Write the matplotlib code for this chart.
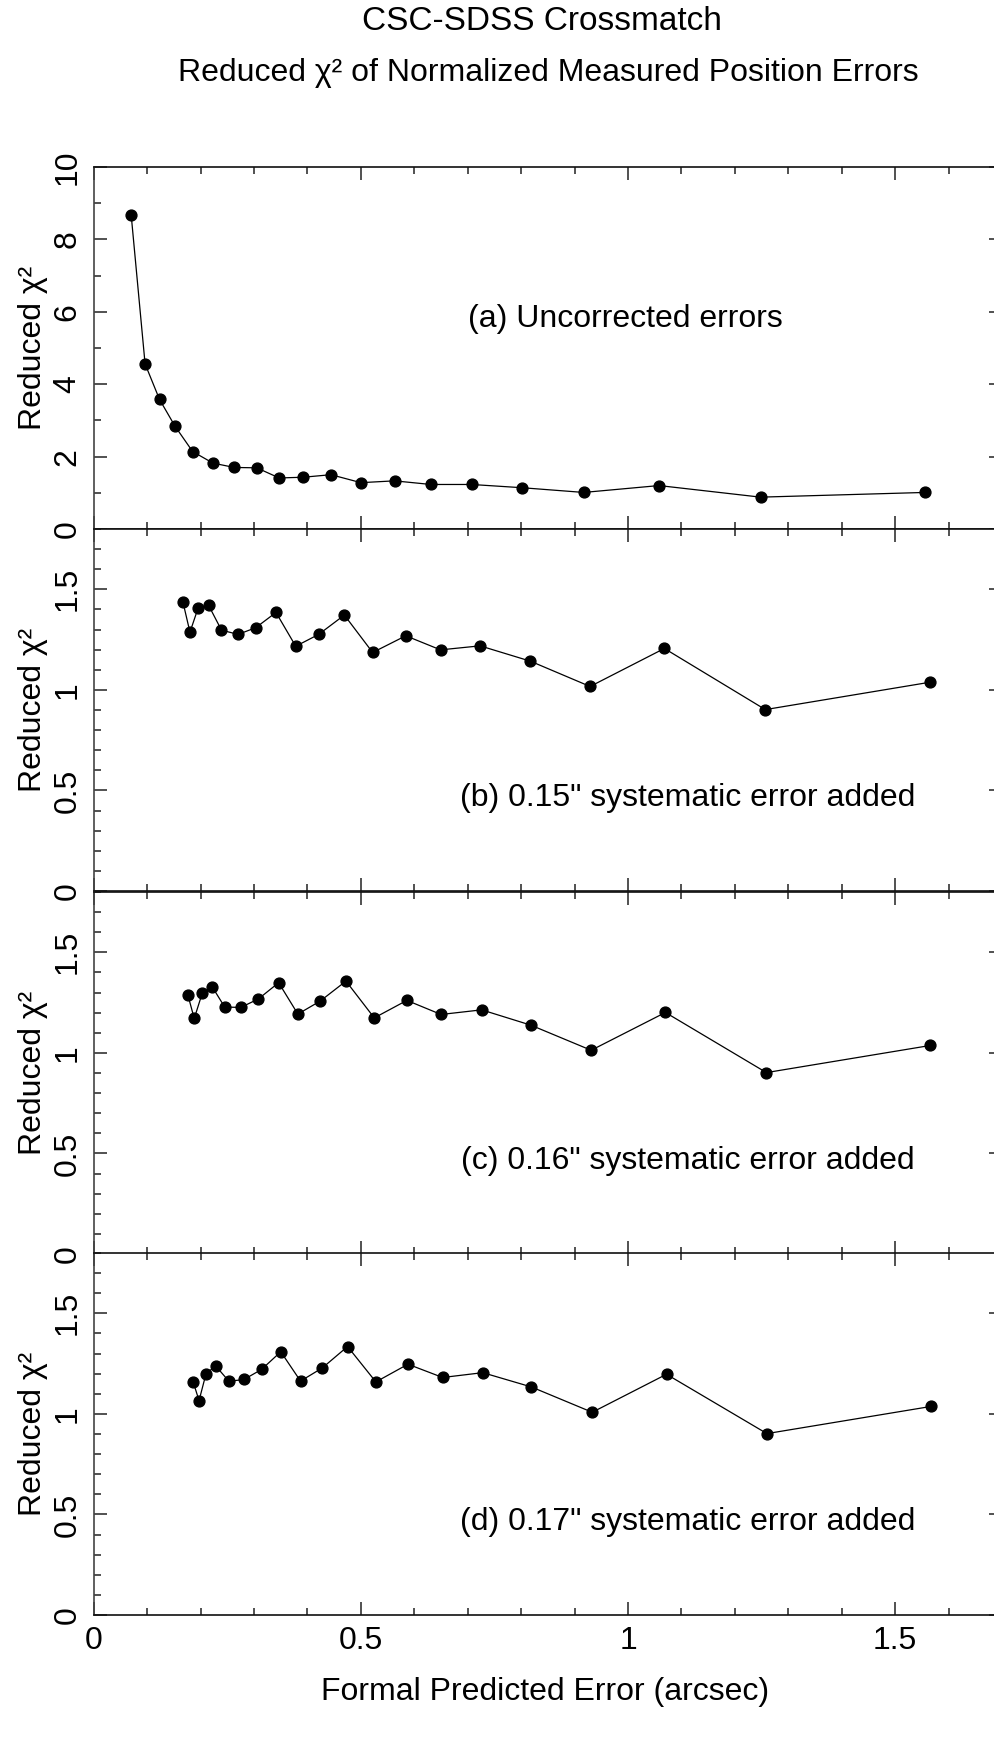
import matplotlib
matplotlib.use("Agg")
import matplotlib.pyplot as plt
from matplotlib.ticker import MultipleLocator

plt.rcParams['font.family'] = ['Liberation Sans', 'DejaVu Sans']

# ---- data ----
xa = [0.070, 0.096, 0.123, 0.152, 0.185, 0.223, 0.263, 0.305, 0.347, 0.392,
      0.444, 0.500, 0.563, 0.631, 0.707, 0.802, 0.917, 1.058, 1.248, 1.556]
ya = [8.67, 4.56, 3.58, 2.84, 2.14, 1.82, 1.70, 1.69, 1.41, 1.43,
      1.50, 1.28, 1.33, 1.23, 1.23, 1.14, 1.01, 1.20, 0.88, 1.01]

xb = [0.167, 0.180, 0.195, 0.215, 0.239, 0.270, 0.303, 0.341, 0.378, 0.421,
      0.469, 0.522, 0.584, 0.649, 0.723, 0.817, 0.929, 1.068, 1.257, 1.565]
yb = [1.435, 1.287, 1.405, 1.420, 1.297, 1.276, 1.309, 1.385, 1.217, 1.276,
      1.372, 1.186, 1.269, 1.199, 1.219, 1.143, 1.017, 1.206, 0.902, 1.038]

xc = [0.176, 0.188, 0.203, 0.222, 0.245, 0.275, 0.308, 0.346, 0.382, 0.424,
      0.472, 0.525, 0.586, 0.650, 0.726, 0.818, 0.931, 1.070, 1.259, 1.566]
yc = [1.289, 1.171, 1.297, 1.327, 1.228, 1.226, 1.268, 1.349, 1.193, 1.258,
      1.357, 1.174, 1.261, 1.191, 1.214, 1.138, 1.013, 1.201, 0.902, 1.037]

xd = [0.186, 0.197, 0.210, 0.228, 0.253, 0.281, 0.314, 0.350, 0.387, 0.428,
      0.475, 0.528, 0.588, 0.653, 0.728, 0.819, 0.933, 1.072, 1.260, 1.567]
yd = [1.159, 1.066, 1.199, 1.239, 1.162, 1.171, 1.221, 1.309, 1.163, 1.229,
      1.335, 1.159, 1.247, 1.181, 1.205, 1.134, 1.008, 1.197, 0.902, 1.037]

labels = ['(a) Uncorrected errors',
          '(b) 0.15" systematic error added',
          '(c) 0.16" systematic error added',
          '(d) 0.17" systematic error added']
xticks = [0, 0.5, 1, 1.5]
xtick_labels = ['0', '0.5', '1', '1.5']

W, H = 994, 1739
fig = plt.figure(figsize=(W / 100, H / 100), dpi=100)

left = 93.8 / W
width = (1002 - 93.8) / W
panel_tops = [167, 529, 892, 1253]
ph = 362

series = [(xa, ya), (xb, yb), (xc, yc), (xd, yd)]
FS = 23
axes = []
for i, (xs, ys) in enumerate(series):
    top = panel_tops[i]
    ax = fig.add_axes([left, 1 - (top + ph) / H, width, ph / H])
    axes.append(ax)
    ax.plot(xs, ys, '-', color='black', lw=0.9, marker='o', ms=7.8,
            mfc='black', mec='black', zorder=3)
    ax.set_xlim(0, 1.7)
    if i == 0:
        ax.set_ylim(0, 10)
        ax.yaxis.set_major_locator(MultipleLocator(2))
        ax.yaxis.set_minor_locator(MultipleLocator(1))
    else:
        ax.set_ylim(0, 1.8)
        ax.yaxis.set_major_locator(MultipleLocator(0.5))
        ax.yaxis.set_minor_locator(MultipleLocator(0.1))
        ax.set_yticks([0, 0.5, 1, 1.5])
        ax.set_yticklabels(['0', '0.5', '1', '1.5'])
    ax.set_xticks(xticks)
    ax.xaxis.set_minor_locator(MultipleLocator(0.1))
    ax.tick_params(which='both', direction='in', top=True, right=True,
                   color='#222222', width=1.1)
    ax.tick_params(which='major', length=9.4)
    ax.tick_params(which='minor', length=4.8)
    ax.tick_params(axis='y', labelsize=FS, pad=8, labelrotation=90)
    for lab in ax.get_yticklabels():
        lab.set_va('center')
    ax.tick_params(axis='x', labelsize=FS, pad=8)
    if i < 3:
        ax.set_xticklabels([])
    else:
        ax.set_xticklabels(xtick_labels)
    for s in ax.spines.values():
        s.set_linewidth(1.2)
        s.set_color('#111111')
    ax.spines['left'].set_color('#444444')
    ax.set_ylabel('Reduced χ²', fontsize=FS)
    ax.yaxis.set_label_coords(-0.050, 0.5)
    if i == 0:
        ax.text(0.700, 5.58, labels[i], fontsize=FS, ha='left', va='baseline')
    else:
        ax.text(1.537, 0.424, labels[i], fontsize=FS, ha='right', va='baseline')

fig.text(542 / W, 1 - 22 / H, 'CSC-SDSS Crossmatch', fontsize=24,
         ha='center', va='center')
fig.text(548 / W, 1 - 73 / H,
         'Reduced χ² of Normalized Measured Position Errors', fontsize=23,
         ha='center', va='center')
fig.text(545 / W, 1 - 1692 / H, 'Formal Predicted Error (arcsec)',
         fontsize=FS, ha='center', va='center')

fig.savefig('out.png', dpi=100)
